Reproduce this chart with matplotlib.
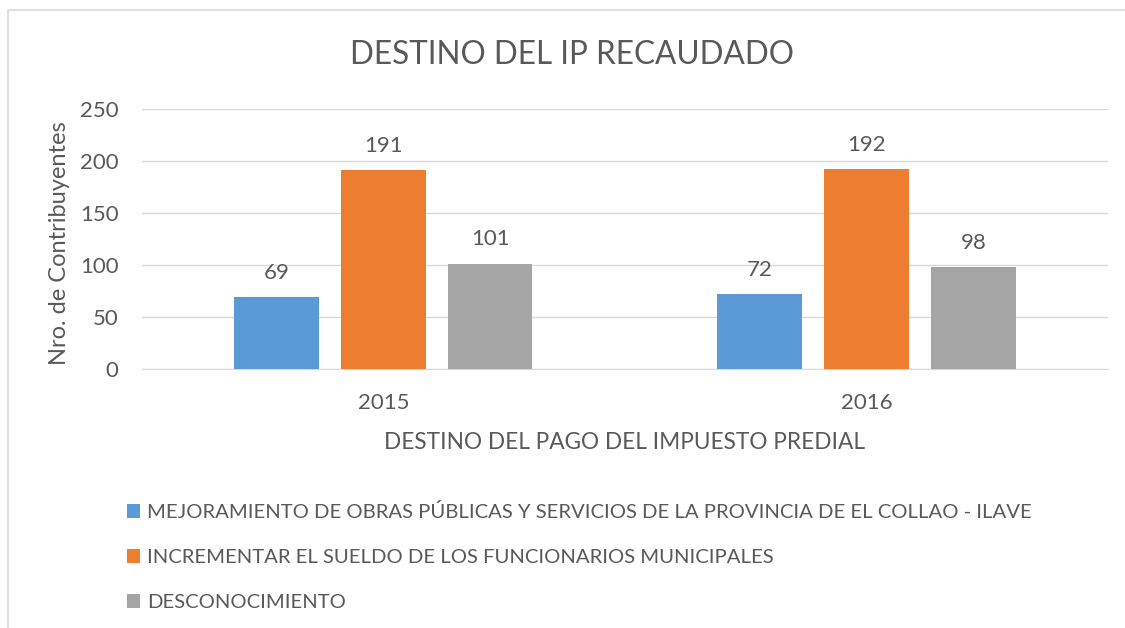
import numpy as np
import matplotlib.pyplot as plt
from matplotlib.patches import Rectangle

# Donnees du graphique
anios = ['2015', '2016']
series = ['MEJORAMIENTO DE OBRAS PÚBLICAS Y SERVICIOS DE LA PROVINCIA DE EL COLLAO - ILAVE',
          'INCREMENTAR EL SUELDO DE LOS FUNCIONARIOS MUNICIPALES',
          'DESCONOCIMIENTO']
mejoramiento = [69, 72]
incrementar = [191, 192]
desconocimiento = [101, 98]
valeurs = [mejoramiento, incrementar, desconocimiento]
colores = ['#5B9BD5', '#ED7D31', '#A5A5A5']

plt.rcParams['font.family'] = ['Lato', 'DejaVu Sans']
txt = '#595959'

fig = plt.figure(figsize=(11.25, 6.28), dpi=100)
ax = fig.add_axes([0.1262, 0.4124, 0.8587, 0.414])

x = np.arange(len(anios))
ancho = 0.174
paso = 0.2215
barras = []
for i, (vals, col, lab) in enumerate(zip(valeurs, colores, series)):
    b = ax.bar(x + (i - 1) * paso, vals, ancho, color=col, label=lab, zorder=3)
    barras.append(b)
    # etiquetas de datos
    for xi, v in zip(x + (i - 1) * paso, vals):
        ax.text(xi, v + 14, str(v), ha='center', va='bottom', fontsize=16, color=txt)

ax.set_xlim(-0.5, 1.5)
ax.set_ylim(0, 250)
ax.set_yticks(np.arange(0, 251, 50))
ax.set_xticks(x)
ax.set_xticklabels(anios)
ax.grid(True, axis='y', color='#d9d9d9', linewidth=1, zorder=0)
for s in ['top', 'right', 'left']:
    ax.spines[s].set_visible(False)
ax.spines['bottom'].set_color('#d9d9d9')
ax.tick_params(axis='both', length=0, labelsize=16, labelcolor=txt)
ax.tick_params(axis='y', pad=17)
ax.tick_params(axis='x', pad=17)

# Titulos
fig.text(0.508, 0.912, 'DESTINO DEL IP RECAUDADO', fontsize=22.7, color=txt,
         ha='center', va='center')
fig.text(59 / 1125, 1 - 243 / 628, 'Nro. de Contribuyentes', fontsize=17, color=txt,
         rotation=90, ha='center', va='center')
ax.set_xlabel('DESTINO DEL PAGO DEL IMPUESTO PREDIAL', fontsize=16.3, color=txt, labelpad=14)

# Leyenda
leg = fig.legend(handles=barras, loc='upper left', bbox_to_anchor=(0.097, 0.228),
                 frameon=False, fontsize=14.6, labelcolor=txt, handlelength=0.64,
                 handleheight=0.64, handletextpad=0.34, labelspacing=1.38)

# Borde del grafico
fig.patches.append(Rectangle((0.007, -0.1), 1.2, 1.084, transform=fig.transFigure,
                             fill=False, edgecolor='#d9d9d9', linewidth=1.2))

plt.savefig('out.png', dpi=100)
